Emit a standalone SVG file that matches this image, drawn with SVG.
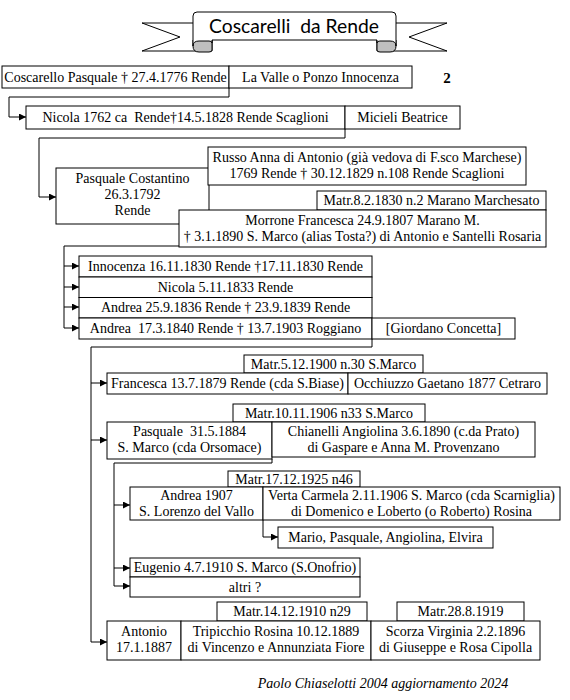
<svg xmlns="http://www.w3.org/2000/svg" width="570" height="700" viewBox="0 0 570 700">
<defs>
<marker id="ar" markerUnits="userSpaceOnUse" markerWidth="8" markerHeight="8" refX="7" refY="3.5" orient="auto">
<path d="M0,0 L7,3.5 L0,7 Z" fill="#000"/>
</marker>
<style>
.b{fill:#fff;stroke:#000;stroke-width:1}
.t{font-family:"Liberation Serif","Times New Roman",serif;font-size:14px;fill:#000;text-anchor:middle;white-space:pre}
.c{fill:none;stroke:#000;stroke-width:1}
.a{fill:none;stroke:#000;stroke-width:1;marker-end:url(#ar)}
</style>
</defs>
<rect width="570" height="700" fill="#fff"/>
<g id="banner">
<path d="M142,23 L212,23 L212,51 L142,51 L180,37 Z" class="b"/>
<path d="M447,23 L377,23 L377,51 L447,51 L409,37 Z" class="b"/>
<path d="M193,40 L212,40 L212,50 Q212,52 209,52 L199,52 Q193,52 193,46 Z" fill="#bfbfbf" stroke="#000"/>
<path d="M396,40 L377,40 L377,50 Q377,52 380,52 L390,52 Q396,52 396,46 Z" fill="#bfbfbf" stroke="#000"/>
<path d="M197,12 L392,12 Q396,12 396,16 L396,46 Q396,41 390,41 L380,41 Q377,41 377,43 L377,40 L212,40 L212,43 Q212,41 209,41 L199,41 Q193,41 193,46 L193,16 Q193,12 197,12 Z" class="b"/>
<text x="294" y="33" font-family="Lato,'Open Sans',sans-serif" font-size="20" text-anchor="middle" textLength="170" lengthAdjust="spacingAndGlyphs" style="white-space:pre">Coscarelli  da Rende</text>
</g>
<text id="pagenum" x="447" y="83" font-family="'Liberation Serif',serif" font-size="15" font-weight="bold" text-anchor="middle">2</text>
<g id="connectors">
<path class="a" d="M229,88 V97 H9 V117 H26"/>
<path class="a" d="M345,129 V138 H39 V197 H56"/>
<path class="c" d="M179,246 H64 V328"/>
<path class="a" d="M64,266 H79"/>
<path class="a" d="M64,287 H79"/>
<path class="a" d="M64,307 H79"/>
<path class="a" d="M64,328 H79"/>
<path class="c" d="M372,339 V347 H91 V642"/>
<path class="a" d="M91,383 H107"/>
<path class="a" d="M91,440 H107"/>
<path class="a" d="M91,642 H107"/>
<path class="c" d="M272,459 V463 H114 V586"/>
<path class="a" d="M114,505 H130"/>
<path class="a" d="M114,568 H130"/>
<path class="a" d="M114,586 H130"/>
<path class="a" d="M263,520 V537 H278"/>
</g>
<g id="n1">
<rect class="b" x="2" y="66" width="227" height="22"/>
<text class="t" x="115.5" y="81.5">Coscarello Pasquale † 27.4.1776 Rende</text>
</g>
<g id="n2">
<rect class="b" x="229" y="66" width="183" height="22"/>
<text class="t" x="320.5" y="81.5">La Valle o Ponzo Innocenza</text>
</g>
<g id="n3">
<rect class="b" x="26" y="106" width="319" height="23"/>
<text class="t" x="185.5" y="122">Nicola 1762 ca  Rende†14.5.1828 Rende Scaglioni</text>
</g>
<g id="n4">
<rect class="b" x="345" y="106" width="115" height="23"/>
<text class="t" x="402.5" y="122">Micieli Beatrice</text>
</g>
<g id="n5">
<rect class="b" x="56" y="168" width="153" height="56"/>
<text class="t" x="132.5" y="183">Pasquale Costantino</text>
<text class="t" x="132.5" y="199">26.3.1792</text>
<text class="t" x="132.5" y="215">Rende</text>
</g>
<g id="n6">
<rect class="b" x="208" y="147" width="318" height="38"/>
<text class="t" x="367" y="162">Russo Anna di Antonio (già vedova di F.sco Marchese)</text>
<text class="t" x="367" y="178">1769 Rende † 30.12.1829 n.108 Rende Scaglioni</text>
</g>
<g id="n7">
<rect class="b" x="317" y="191" width="229" height="19"/>
<text class="t" x="431.5" y="205">Matr.8.2.1830 n.2 Marano Marchesato</text>
</g>
<g id="n8">
<rect class="b" x="179" y="210" width="367" height="37"/>
<text class="t" x="362.5" y="224.5">Morrone Francesca 24.9.1807 Marano M.</text>
<text class="t" x="362.5" y="240.5">† 3.1.1890 S. Marco (alias Tosta?) di Antonio e Santelli Rosaria</text>
</g>
<g id="n9">
<rect class="b" x="79" y="256" width="293" height="21"/>
<text class="t" x="225.5" y="271">Innocenza 16.11.1830 Rende †17.11.1830 Rende</text>
</g>
<g id="n10">
<rect class="b" x="79" y="277" width="293" height="20.5"/>
<text class="t" x="225.5" y="291.5">Nicola 5.11.1833 Rende</text>
</g>
<g id="n11">
<rect class="b" x="79" y="297.5" width="293" height="20.5"/>
<text class="t" x="225.5" y="312">Andrea 25.9.1836 Rende † 23.9.1839 Rende</text>
</g>
<g id="n12">
<rect class="b" x="79" y="318" width="293" height="21"/>
<text class="t" x="225.5" y="333">Andrea  17.3.1840 Rende † 13.7.1903 Roggiano</text>
</g>
<g id="n13">
<rect class="b" x="372" y="318" width="143" height="21"/>
<text class="t" x="443.5" y="333">[Giordano Concetta]</text>
</g>
<g id="n14">
<rect class="b" x="244" y="355" width="179" height="18"/>
<text class="t" x="333.5" y="368.5">Matr.5.12.1900 n.30 S.Marco</text>
</g>
<g id="n15">
<rect class="b" x="107" y="373" width="241" height="21"/>
<text class="t" x="227.5" y="388">Francesca 13.7.1879 Rende (cda S.Biase)</text>
</g>
<g id="n16">
<rect class="b" x="348" y="373" width="199" height="21"/>
<text class="t" x="447.5" y="388">Occhiuzzo Gaetano 1877 Cetraro</text>
</g>
<g id="n17">
<rect class="b" x="233" y="404" width="192" height="18"/>
<text class="t" x="329" y="417.5">Matr.10.11.1906 n33 S.Marco</text>
</g>
<g id="n18">
<rect class="b" x="107" y="422" width="165" height="37"/>
<text class="t" x="189.5" y="436">Pasquale  31.5.1884</text>
<text class="t" x="189.5" y="452">S. Marco (cda Orsomace)</text>
</g>
<g id="n19">
<rect class="b" x="272" y="422" width="263" height="35"/>
<text class="t" x="403.5" y="436">Chianelli Angiolina 3.6.1890 (c.da Prato)</text>
<text class="t" x="403.5" y="452">di Gaspare e Anna M. Provenzano</text>
</g>
<g id="n20">
<rect class="b" x="228" y="471" width="132" height="16"/>
<text class="t" x="294" y="483.5">Matr.17.12.1925 n46</text>
</g>
<g id="n21">
<rect class="b" x="130" y="487" width="133" height="33"/>
<text class="t" x="196.5" y="500">Andrea 1907</text>
<text class="t" x="196.5" y="516">S. Lorenzo del Vallo</text>
</g>
<g id="n22">
<rect class="b" x="263" y="487" width="297" height="33"/>
<text class="t" x="411.5" y="500">Verta Carmela 2.11.1906 S. Marco (cda Scarniglia)</text>
<text class="t" x="411.5" y="516">di Domenico e Loberto (o Roberto) Rosina</text>
</g>
<g id="n23">
<rect class="b" x="278" y="527" width="215" height="21"/>
<text class="t" x="385.5" y="542">Mario, Pasquale, Angiolina, Elvira</text>
</g>
<g id="n24">
<rect class="b" x="130" y="558" width="230" height="19"/>
<text class="t" x="245" y="572">Eugenio 4.7.1910 S. Marco (S.Onofrio)</text>
</g>
<g id="n25">
<rect class="b" x="130" y="577" width="230" height="20"/>
<text class="t" x="245" y="591.5">altri ?</text>
</g>
<g id="n26">
<rect class="b" x="217" y="602" width="150" height="19"/>
<text class="t" x="292" y="616">Matr.14.12.1910 n29</text>
</g>
<g id="n27">
<rect class="b" x="397" y="602" width="127" height="19"/>
<text class="t" x="460.5" y="616">Matr.28.8.1919</text>
</g>
<g id="n28">
<rect class="b" x="107" y="621" width="74" height="39"/>
<text class="t" x="144" y="636">Antonio</text>
<text class="t" x="144" y="652">17.1.1887</text>
</g>
<g id="n29">
<rect class="b" x="181" y="621" width="190" height="39"/>
<text class="t" x="276" y="636">Tripicchio Rosina 10.12.1889</text>
<text class="t" x="276" y="652">di Vincenzo e Annunziata Fiore</text>
</g>
<g id="n30">
<rect class="b" x="371" y="621" width="169" height="39"/>
<text class="t" x="455.5" y="636">Scorza Virginia 2.2.1896</text>
<text class="t" x="455.5" y="652">di Giuseppe e Rosa Cipolla</text>
</g>
<text id="footer" x="383" y="688" font-family="'Liberation Serif',serif" font-size="14" font-style="italic" text-anchor="middle">Paolo Chiaselotti 2004 aggiornamento 2024</text>
</svg>
